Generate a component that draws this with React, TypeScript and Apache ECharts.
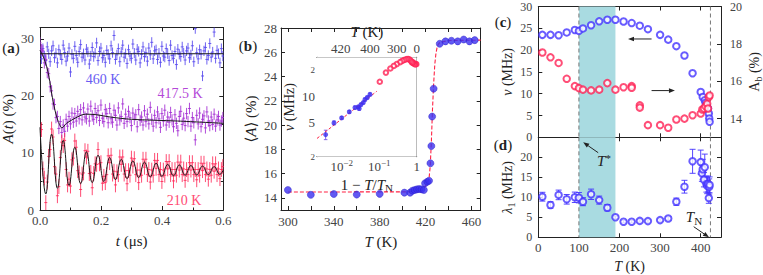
import React, { useEffect, useRef } from "react";
import * as echarts from "echarts";

const FONT = "'Liberation Serif','DejaVu Serif','DejaVu Sans',serif";
const INK = "#222";
const LBL = "#444";

// ---------- panel (a): asymmetry spectra ----------
const binWidth = 0.00475; // us
const a460 = [
  27.8, 26.5, 28.3, 27.0, 26.2, 28.6, 27.4, 26.0, 27.9, 28.8,
  26.7, 27.5, 25.8, 28.1, 27.2, 26.4, 28.9, 27.6, 26.1, 27.0,
  28.4, 24.2, 27.3, 26.6, 28.7, 27.1, 25.9, 27.8, 29.0, 26.8,
  27.4, 26.3, 28.2, 27.7, 25.6, 27.0, 28.5, 26.9, 27.5, 29.3,
  26.2, 27.8, 28.4, 26.7, 27.1, 25.9, 28.0, 27.3, 26.5, 28.8,
  27.6, 30.6, 26.4, 27.2, 28.3, 26.0, 27.7, 28.9, 26.8, 27.4,
  25.7, 28.1, 27.0, 26.6, 29.1, 27.5, 26.3, 28.2, 27.8, 25.8,
  27.3, 28.6, 26.9, 27.6, 26.1, 28.4, 27.2, 29.4, 26.5, 27.9,
  28.1, 26.4, 27.5, 25.9, 28.7, 27.0, 26.8, 28.3, 27.4, 26.2,
  28.9, 27.1, 26.6, 27.8, 25.5, 28.2, 27.3, 26.9, 28.6, 27.5,
  26.3, 27.9, 28.4, 26.7, 27.2, 28.8, 26.0, 31.8, 27.6, 26.5,
  28.1, 27.3, 23.5, 27.9, 28.5, 26.4, 27.1, 29.2, 26.8, 27.7,
  31.2, 26.6, 28.0, 27.4, 25.8, 28.3, 27.0,
];
const a4175 = [
  29.3, 28.1, 27.9, 25.8, 26.4, 24.1, 23.9, 21.6, 20.9, 18.6,
  18.5, 16.2, 16.4, 14.3, 15.5, 13.6, 14.9, 13.8, 15.9, 14.7,
  16.4, 15.1, 17.0, 15.4, 16.9, 15.6, 17.3, 16.0, 17.6, 15.8,
  17.9, 16.3, 16.0, 17.7, 15.6, 18.2, 16.5, 15.9, 17.8, 16.2,
  17.4, 15.7, 18.4, 16.1, 15.5, 17.6, 16.9, 15.3, 17.8, 16.0,
  15.4, 17.5, 16.6, 14.9, 17.9, 15.8, 16.4, 18.6, 15.2, 16.8,
  15.5, 17.3, 16.2, 14.8, 17.0, 15.9, 16.7, 14.6, 17.6, 15.7,
  16.3, 14.9, 17.4, 15.5, 16.8, 15.1, 18.0, 15.9, 14.7, 16.6,
  15.3, 17.2, 16.0, 14.5, 16.9, 15.6, 17.5, 14.9, 16.3, 15.4,
  17.1, 15.8, 14.6, 16.7, 15.2, 13.9, 16.4, 17.3, 15.0, 16.1,
  14.8, 16.9, 15.5, 17.8, 14.7, 16.2, 15.3, 12.3, 16.6, 15.1,
  17.0, 14.6, 15.9, 16.5, 14.4, 17.2, 15.6, 14.8, 16.3, 15.0,
  16.8, 14.7, 15.8, 16.4, 14.9, 15.6, 16.2,
];
const a210 = [
  13.8, 14.1, 7.2, 5.6, 1.3, 4.9, 9.4, 10.6, 14.2, 12.8,
  7.6, 6.3, 2.5, 4.1, 9.2, 11.9, 11.3, 12.2, 7.1, 4.4,
  5.4, 4.2, 8.8, 9.1, 12.1, 11.0, 6.9, 6.5, 3.6, 6.3,
  6.5, 10.4, 9.3, 10.3, 6.4, 6.6, 3.9, 6.4, 8.1, 8.0,
  10.6, 8.1, 8.3, 4.7, 5.9, 4.8, 6.2, 9.5, 8.3, 9.6,
  6.3, 6.8, 4.4, 6.7, 6.2, 9.3, 8.0, 9.3, 6.3, 6.9,
  4.6, 6.9, 6.1, 9.1, 7.7, 9.0, 6.2, 7.0, 4.8, 7.0,
  6.1, 8.9, 7.5, 8.9, 6.2, 7.1, 4.9, 7.0, 6.1, 8.7,
  7.3, 8.7, 6.2, 7.1, 5.0, 7.0, 6.1, 8.5, 7.2, 8.5,
  6.2, 7.1, 5.1, 7.1, 6.1, 8.4, 7.0, 8.4, 6.2, 7.2,
  5.2, 7.1, 6.2, 8.3, 7.0, 8.3, 6.2, 7.1, 5.3, 7.1,
  6.1, 8.2, 6.9, 8.2, 6.2, 7.2, 5.4, 7.1, 6.1, 8.1,
  6.8, 8.1, 6.2, 7.2, 5.5, 7.1, 7.6,
];
const err460 = 0.9;
const err4175 = 1.0;
const err210 = 1.3;
const fit460 = [[0, 27.4], [0.6, 27.4]];
const fit4175 = [
  [0, 28.0], [0.01, 27.0], [0.022, 25.1], [0.03, 23.2], [0.038, 20.5], [0.049, 17.5],
  [0.06, 15.5], [0.072, 14.4], [0.087, 15.2], [0.115, 16.1], [0.148, 16.8], [0.186, 16.7],
  [0.23, 16.3], [0.3, 15.9], [0.45, 15.6], [0.6, 15.2],
];
const fit210 = [
  [0, 14.5], [0.019, 2.8], [0.038, 13.3], [0.057, 3.8], [0.076, 12.2], [0.095, 4.3],
  [0.114, 11.0], [0.133, 4.6], [0.152, 10.2], [0.171, 4.8], [0.19, 9.6], [0.209, 5.0],
  [0.228, 9.2], [0.247, 5.3], [0.266, 8.9], [0.285, 5.5], [0.304, 8.6], [0.323, 5.7],
  [0.342, 8.4], [0.361, 5.8], [0.38, 8.2], [0.399, 5.9], [0.418, 8.0], [0.437, 6.0],
  [0.456, 7.9], [0.475, 6.1], [0.494, 7.8], [0.513, 6.15], [0.532, 7.7], [0.551, 6.2],
  [0.57, 7.6], [0.589, 6.25], [0.6, 7.0],
];

// ---------- panel (b): <A> vs T ----------
const bT = [300, 320, 340, 360, 380, 401.5, 406.5, 408.5, 410.5, 412.5, 414.5, 416.5, 418.5,
  419.5, 421.5, 423, 424.2, 425, 425.7, 427, 432.3, 437.3, 442.5, 448, 453.2, 458.2, 462.8];
const bA = [14.65, 14.25, 14.32, 14.27, 14.33, 14.43, 14.43, 14.59, 14.65, 14.7, 14.73, 14.7, 14.65,
  15.2, 15.33, 15.41, 16.85, 18.27, 20.7, 23.0, 26.7, 26.9, 26.95, 26.9, 27.05, 26.9, 27.0];
const bFitT = [300, 416, 419, 421.5, 423, 424, 425, 426, 427, 428, 429, 430, 431, 432.3, 440, 468];
const bFitA = [14.48, 14.5, 14.85, 15.2, 15.6, 16.6, 18.6, 21.3, 23.4, 25.0, 25.9, 26.4, 26.65, 26.8, 26.97, 27.0];
const TN = 424;
// inset
const insX = [0.00374, 0.00624, 0.01, 0.01596, 0.0226, 0.0277, 0.0294, 0.0327, 0.0377, 0.0418, 0.0482, 0.0569];
const insNu = [3.6, 4.92, 5.62, 6.6, 7.4, 7.53, 7.2, 8.0, 8.45, 9.16, 9.66, 10.5];
const insErr = [0.45, 0.25, 0.2, 0.25, 0.3, 0.3, 0.3, 0.3, 0.3, 0.35, 0.35, 0.4];
const insFitX = [0.0022, 0.086];
const insFitNu = [3.25, 11.4];
const insTopT = [420, 400, 300, 0];

// ---------- panel (c): nu and A_b vs T ----------
const cT = [10, 30, 50, 70, 90, 100, 110, 130, 150, 170, 190, 210, 230, 250, 270, 300, 320, 340, 360, 380,
  400, 405, 410, 412, 414, 418, 420, 421, 422];
const cNu = [23.5, 23.5, 23.4, 24.05, 24.6, 24.4, 24.97, 25.7, 26.6, 26.95, 26.95, 26.55, 26.2, 25.6, 24.8,
  23.5, 22.4, 20.9, 18.75, 14.7, 10.4, 9.25, 8.5, 7.9, 7.36, 6.6, 5.47, 4.33, 3.55];
const abT = [10, 30, 50, 70, 90, 100, 110, 130, 150, 170, 190, 210, 230, 230, 250, 250, 270, 300, 320, 340,
  360, 380, 400, 404, 408, 412, 416, 418, 420, 422];
const abA = [17.54, 17.28, 16.98, 16.13, 15.74, 15.63, 15.55, 15.51, 15.55, 15.9, 15.55, 15.68, 15.74, 15.65,
  14.71, 14.59, 13.65, 13.65, 13.51, 13.95, 14.0, 14.18, 14.27, 14.49, 14.54, 14.66, 14.8, 14.54, 15.15, 15.24];

// ---------- panel (d): lambda_1 vs T ----------
const dT = [10, 30, 50, 70, 90, 100, 110, 130, 150, 170, 190, 210, 230, 250, 270, 300, 320, 340, 360, 380,
  400, 403, 405, 408, 410, 414, 416, 418, 420, 421, 422];
const dLam = [10.15, 8.08, 10.6, 9.5, 10.0, 9.9, 8.9, 10.75, 9.3, 7.4, 5.0, 3.9, 3.9, 4.1, 4.05, 4.3, 4.7,
  8.9, 12.65, 19.0, 18.8, 16.0, 17.0, 14.4, 17.5, 13.3, 12.9, 13.3, 9.8, 12.6, 13.1];
const dErr = [1.1, 0.8, 1.2, 1.2, 1.3, 1.3, 1.0, 1.3, 1.0, 0.8, 0.3, 0.3, 0.3, 0.3, 0.3, 0.3, 0.4, 0.9,
  1.6, 3.0, 3.0, 2.0, 2.5, 1.8, 3.3, 2.0, 2.0, 2.0, 1.3, 2.0, 2.0];
const cdTickLabels = [0, 100, 200, 300, 400];
const tStar = 100;
const bandEnd = 190;

// ---------- colours ----------
const C460 = "#5546ee";
const C4175 = "#a22ad2";
const C210 = "#ff1f50";
const BLUE = "#4433ff";
const RED = "#ff2255";
const BAND = "#a9dbe1";

const L10 = Math.log10;

const richBase = (fs: number) => ({
  i: { fontStyle: "italic", fontFamily: FONT, fontSize: fs, color: INK, lineHeight: 18 },
  r: { fontFamily: FONT, fontSize: fs, color: INK, lineHeight: 18 },
  sub: { fontFamily: FONT, fontSize: fs - 4, color: INK, lineHeight: 10, verticalAlign: "bottom" },
  sup: { fontFamily: FONT, fontSize: fs - 4, color: INK, lineHeight: 10, verticalAlign: "top" },
  b: { fontFamily: FONT, fontSize: fs, color: INK, fontWeight: "bold", lineHeight: 18 },
});

function merge(base: any, o: any) {
  const r: any = { ...base };
  for (const k of Object.keys(o)) {
    if (r[k] && typeof r[k] === "object" && !Array.isArray(r[k]) && o[k] && typeof o[k] === "object" && !Array.isArray(o[k])) {
      r[k] = { ...r[k], ...o[k] };
    } else r[k] = o[k];
  }
  return r;
}

const ax = (o: any) =>
  merge(
    {
      type: "value",
      nameLocation: "middle",
      axisLine: { show: true, onZero: false, lineStyle: { color: INK, width: 1 } },
      axisTick: { show: true, inside: true, length: 4, lineStyle: { color: INK, width: 1 } },
      minorTick: { show: false },
      splitLine: { show: false },
      minorSplitLine: { show: false },
      axisLabel: { show: true, fontFamily: FONT, fontSize: 13, color: LBL, margin: 5 },
      nameTextStyle: { fontFamily: FONT, fontSize: 15, color: INK, lineHeight: 18, rich: richBase(15) },
    },
    o
  );
const mirror = (o: any) => ax({ ...o, axisLabel: { show: false }, name: "" });

const minorA = { show: true, splitNumber: 2, length: 2.5, lineStyle: { color: INK, width: 1 } };

function errRender(color: string, cross: number, cap: number, opacity = 1) {
  return (params: any, api: any) => {
    const x = api.value(0), y = api.value(1), lo = api.value(2), hi = api.value(3);
    const p = api.coord([x, y]);
    const pl = api.coord([x, lo]);
    const ph = api.coord([x, hi]);
    const st = { stroke: color, lineWidth: 1, opacity };
    const ch: any[] = [{ type: "line", shape: { x1: p[0], y1: pl[1], x2: p[0], y2: ph[1] }, style: st }];
    if (cross) ch.push({ type: "line", shape: { x1: p[0] - cross, y1: p[1], x2: p[0] + cross, y2: p[1] }, style: st });
    if (cap) {
      ch.push({ type: "line", shape: { x1: p[0] - cap, y1: pl[1], x2: p[0] + cap, y2: pl[1] }, style: st });
      ch.push({ type: "line", shape: { x1: p[0] - cap, y1: ph[1], x2: p[0] + cap, y2: ph[1] }, style: st });
    }
    return { type: "group", children: ch };
  };
}

function bandRender(params: any, api: any) {
  const cs = params.coordSys;
  const x1 = api.coord([api.value(0), api.value(1)])[0];
  const x2 = api.coord([api.value(2), api.value(1)])[0];
  return { type: "rect", shape: { x: x1, y: cs.y, width: x2 - x1, height: cs.height }, style: { fill: BAND } };
}

function vlineRender(params: any, api: any) {
  const cs = params.coordSys;
  const x = api.coord([api.value(0), api.value(1)])[0];
  return {
    type: "line",
    shape: { x1: x, y1: cs.y, x2: x, y2: cs.y + cs.height },
    style: { stroke: "#777", lineWidth: 1, lineDash: [4, 3] },
  };
}

function arrowRender(params: any, api: any) {
  const p1 = api.coord([api.value(0), api.value(1)]);
  const p2 = api.coord([api.value(2), api.value(3)]);
  const ang = Math.atan2(p2[1] - p1[1], p2[0] - p1[0]);
  const L = 6, W = 2.3;
  const bx = p2[0] - L * Math.cos(ang), by = p2[1] - L * Math.sin(ang);
  const nx = -Math.sin(ang) * W, ny = Math.cos(ang) * W;
  return {
    type: "group",
    children: [
      { type: "line", shape: { x1: p1[0], y1: p1[1], x2: bx, y2: by }, style: { stroke: INK, lineWidth: 1 } },
      { type: "polygon", shape: { points: [[p2[0], p2[1]], [bx + nx, by + ny], [bx - nx, by - ny]] }, style: { fill: INK } },
    ],
  };
}

function buildOption() {
  const tk = (k: number) => +(k * binWidth).toFixed(5);
  const ad = (arr: number[], e: number) => arr.map((v, k) => [tk(k), v, v - e, v + e]);

  const insLogX0 = L10(0.0022);
  const insY0 = L10(2);
  const insY1 = 1.45;
  const minorInsX: number[] = [];
  [0.001, 0.01, 0.1].forEach((d) => {
    for (let m = 2; m <= 9; m++) {
      const v = L10(m * d);
      if (v > insLogX0 && v < 0) minorInsX.push(v);
    }
  });
  const insTopPos = insTopT.map((T) => L10(1 - T / TN));

  const xAxis = [
    // 0 (a) bottom
    ax({ gridIndex: 0, min: 0, max: 0.6, interval: 0.2, minorTick: minorA,
      axisLabel: { formatter: (v: number) => v.toFixed(1), margin: 4 },
      name: "{i|t}{r| (μs)}", nameGap: 19 }),
    // 1 (a) top
    mirror({ gridIndex: 0, position: "top", min: 0, max: 0.6, interval: 0.2, minorTick: minorA }),
    // 2 (b) bottom
    ax({ gridIndex: 1, min: 294, max: 468,
      axisTick: { customValues: [300, 320, 340, 360, 380, 400, 420, 440, 460] },
      axisLabel: { customValues: [300, 340, 380, 420, 460], margin: 5 },
      name: "{i|T}{r| (K)}", nameGap: 19 }),
    // 3 (b) top
    mirror({ gridIndex: 1, position: "top", min: 294, max: 468,
      axisTick: { customValues: [300, 320, 340, 360, 380, 400, 420, 440, 460] } }),
    // 4 inset bottom
    ax({ gridIndex: 2, min: insLogX0, max: 0,
      axisTick: { customValues: [-2, -1, 0], length: 3.5 },
      axisLabel: { customValues: [-2, -1, 0], margin: 2,
        formatter: (v: number) => { const n = Math.round(v); return n === 0 ? "1" : "10{sup|−" + (-n) + "}"; },
        rich: { sup: { fontFamily: FONT, fontSize: 9, color: LBL, verticalAlign: "top", lineHeight: 9 } },
        lineHeight: 16 },
      name: "{r|1 − }{i|T}{r|/}{i|T}{sub|N}", nameGap: 12 }),
    // 5 inset bottom minor ticks
    mirror({ gridIndex: 2, min: insLogX0, max: 0, axisLine: { show: false },
      axisTick: { customValues: minorInsX, length: 2 } }),
    // 6 inset top (T)
    ax({ gridIndex: 2, position: "top", min: insLogX0, max: 0,
      axisTick: { customValues: insTopPos, length: 3.5 },
      axisLabel: { customValues: insTopPos, margin: 2,
        formatter: (v: number) => String(Math.round(TN * (1 - Math.pow(10, v)))) },
      name: "{i|T}{r| (K)}", nameGap: 11 }),
    // 7 (c) bottom
    mirror({ gridIndex: 3, min: 0, max: 450, axisTick: { customValues: cdTickLabels } }),
    // 8 (c) top
    mirror({ gridIndex: 3, position: "top", min: 0, max: 450, axisTick: { customValues: cdTickLabels } }),
    // 9 (d) bottom
    ax({ gridIndex: 4, min: 0, max: 450,
      axisTick: { customValues: cdTickLabels },
      axisLabel: { customValues: cdTickLabels, margin: 4 },
      name: "{i|T}{r| (K)}", nameGap: 20, nameTextStyle: { fontSize: 14, rich: richBase(14) } }),
    // 10 (d) top
    mirror({ gridIndex: 4, position: "top", min: 0, max: 450, axisTick: { customValues: cdTickLabels } }),
  ];

  const insYTicks = [2, 3, 4, 5, 6, 7, 8, 9, 10, 20].map((v) => L10(v));
  const yAxis = [
    // 0 (a) left
    ax({ gridIndex: 0, min: 0, max: 32, interval: 10, minorTick: minorA, axisLabel: { margin: 6 },
      name: "{i|A}{r|(}{i|t}{r|) (%)}", nameGap: 22, nameRotate: 90 }),
    // 1 (a) right
    mirror({ gridIndex: 0, position: "right", min: 0, max: 32, interval: 10, minorTick: minorA }),
    // 2 (b) left
    ax({ gridIndex: 1, min: 13, max: 28,
      axisTick: { customValues: [14, 16, 18, 20, 22, 24, 26, 28] },
      axisLabel: { customValues: [14, 16, 18, 20, 22, 24, 26, 28], margin: 4 },
      name: "{r|⟨}{i|A}{r|⟩ (%)}", nameGap: 20, nameRotate: 90 }),
    // 3 (b) right
    mirror({ gridIndex: 1, position: "right", min: 13, max: 28,
      axisTick: { customValues: [14, 16, 18, 20, 22, 24, 26, 28] } }),
    // 4 inset left
    ax({ gridIndex: 2, min: insY0, max: insY1,
      axisTick: { customValues: insYTicks, length: 3 },
      axisLabel: { customValues: [L10(2), L10(5), 1, L10(20)], margin: 2,
        formatter: (v: number) => { const n = Math.round(Math.pow(10, v)); return n === 2 || n === 20 ? "{s|2}" : String(n); },
        rich: { s: { fontFamily: FONT, fontSize: 9, color: LBL } } },
      name: "{i|ν}{r| (MHz)}", nameGap: 11, nameRotate: 90,
      nameTextStyle: { fontSize: 14, rich: richBase(14) } }),
    // 5 inset right
    mirror({ gridIndex: 2, position: "right", min: insY0, max: insY1, axisTick: { customValues: insYTicks, length: 3 } }),
    // 6 (c) left
    ax({ gridIndex: 3, min: 0, max: 30, interval: 5, axisLabel: { margin: 6, fontSize: 12 },
      name: "{i|ν}{r| (MHz)}", nameGap: 21, nameRotate: 90,
      nameTextStyle: { fontSize: 14, rich: richBase(14) } }),
    // 7 (c) right
    ax({ gridIndex: 3, position: "right", min: 13, max: 20,
      axisTick: { customValues: [14, 16, 18, 20] },
      axisLabel: { customValues: [14, 16, 18, 20], margin: 9, fontSize: 12 },
      name: "{r|A}{sub|b}{r| (%)}", nameGap: 15, nameRotate: 90,
      nameTextStyle: { fontSize: 14, rich: richBase(14) } }),
    // 8 (d) left
    ax({ gridIndex: 4, min: 0, max: 25, interval: 5,
      axisLabel: { margin: 6, fontSize: 12, formatter: (v: number) => (v >= 25 ? "" : String(v)) },
      name: "{i|λ}{sub|1}{r| (MHz)}", nameGap: 21, nameRotate: 90,
      nameTextStyle: { fontSize: 14, rich: richBase(14) } }),
    // 9 (d) right
    mirror({ gridIndex: 4, position: "right", min: 0, max: 25, interval: 5 }),
  ];

  const grid = [
    { left: 40, top: 27.5, width: 183.3, height: 182.5 },
    { left: 281, top: 28, width: 199.7, height: 182 },
    { left: 317, top: 57.3, width: 99.7, height: 99.4, show: true, backgroundColor: "#fff", borderWidth: 0, z: 5 },
    { left: 538.3, top: 6.5, width: 182.7, height: 130.8 },
    { left: 538.3, top: 137.3, width: 182.7, height: 100 },
  ].map((g) => ({ ...g, containLabel: false, outerBoundsMode: "none" }));

  const series: any[] = [
    // ---- (a)
    { type: "custom", xAxisIndex: 0, yAxisIndex: 0, clip: true, silent: true, z: 2,
      renderItem: errRender(C460, 1.5, 0, 0.85), data: ad(a460, err460) },
    { type: "custom", xAxisIndex: 0, yAxisIndex: 0, clip: true, silent: true, z: 2,
      renderItem: errRender(C4175, 1.5, 0, 0.85), data: ad(a4175, err4175) },
    { type: "custom", xAxisIndex: 0, yAxisIndex: 0, clip: true, silent: true, z: 2,
      renderItem: errRender(C210, 1.5, 0, 0.8), data: ad(a210, err210) },
    { type: "line", xAxisIndex: 0, yAxisIndex: 0, showSymbol: false, z: 3, silent: true,
      lineStyle: { color: "#1a1a1a", width: 1 }, data: fit460 },
    { type: "line", xAxisIndex: 0, yAxisIndex: 0, showSymbol: false, z: 3, silent: true, smooth: 0.3,
      lineStyle: { color: "#1a1a1a", width: 1 }, data: fit4175 },
    { type: "line", xAxisIndex: 0, yAxisIndex: 0, showSymbol: false, z: 3, silent: true, smooth: 0.45,
      lineStyle: { color: "#1a1a1a", width: 1 }, data: fit210 },
    // ---- (b)
    { type: "line", xAxisIndex: 2, yAxisIndex: 2, showSymbol: false, z: 2, silent: true,
      lineStyle: { color: "#ff2244", width: 1.1, type: [4, 2] }, data: bFitT.map((t, i) => [t, bFitA[i]]) },
    { type: "scatter", xAxisIndex: 2, yAxisIndex: 2, symbol: "circle", symbolSize: 7, z: 3, silent: true,
      itemStyle: { color: "#3b2ff0", borderColor: "#2a20c8", borderWidth: 0.6 }, data: bT.map((t, i) => [t, bA[i]]) },
    // ---- inset
    { type: "line", xAxisIndex: 4, yAxisIndex: 4, showSymbol: false, z: 6, silent: true,
      lineStyle: { color: "#ff2244", width: 1, type: [3, 2] }, data: insFitX.map((x, i) => [L10(x), L10(insFitNu[i])]) },
    { type: "custom", xAxisIndex: 4, yAxisIndex: 4, silent: true, z: 6,
      renderItem: errRender("#7a55e8", 0, 1.8, 0.9),
      data: insX.map((x, i) => [L10(x), L10(insNu[i]), L10(insNu[i] - insErr[i]), L10(insNu[i] + insErr[i])]) },
    { type: "scatter", xAxisIndex: 4, yAxisIndex: 4, symbol: "circle", symbolSize: 5, z: 7, silent: true,
      itemStyle: { color: "#3b2ff0" }, data: insX.map((x, i) => [L10(x), L10(insNu[i])]) },
    { type: "scatter", xAxisIndex: 4, yAxisIndex: 4, symbol: "emptyCircle", symbolSize: 4.5, z: 7, silent: true,
      itemStyle: { color: RED, borderColor: RED, borderWidth: 1 },
      data: cT.map((T, i) => [T, cNu[i]]).filter((p) => p[0] <= 380).map((p) => [L10(1 - p[0] / TN), L10(p[1])]) },
    // ---- (c)
    { type: "custom", xAxisIndex: 7, yAxisIndex: 6, silent: true, z: 1, renderItem: bandRender, data: [[tStar, 0, bandEnd]] },
    { type: "custom", xAxisIndex: 7, yAxisIndex: 6, silent: true, z: 2, renderItem: vlineRender, data: [[tStar, 0], [TN, 0]] },
    { type: "scatter", xAxisIndex: 7, yAxisIndex: 6, symbol: "emptyCircle", symbolSize: 6.5, z: 4, silent: true,
      itemStyle: { color: BLUE, borderColor: BLUE, borderWidth: 1.1 }, data: cT.map((T, i) => [T, cNu[i]]) },
    { type: "scatter", xAxisIndex: 7, yAxisIndex: 7, symbol: "emptyCircle", symbolSize: 6.5, z: 4, silent: true,
      itemStyle: { color: RED, borderColor: RED, borderWidth: 1.1 }, data: abT.map((T, i) => [T, abA[i]]) },
    { type: "custom", xAxisIndex: 7, yAxisIndex: 6, silent: true, z: 3, renderItem: arrowRender, data: [[279, 22.55, 221, 22.55]] },
    { type: "custom", xAxisIndex: 7, yAxisIndex: 7, silent: true, z: 3, renderItem: arrowRender, data: [[279, 15.5, 336.5, 15.5]] },
    // ---- (d)
    { type: "custom", xAxisIndex: 9, yAxisIndex: 8, silent: true, z: 1, renderItem: bandRender, data: [[tStar, 0, bandEnd]] },
    { type: "custom", xAxisIndex: 9, yAxisIndex: 8, silent: true, z: 2, renderItem: vlineRender, data: [[tStar, 0], [TN, 0]] },
    { type: "custom", xAxisIndex: 9, yAxisIndex: 8, silent: true, z: 3, renderItem: errRender(BLUE, 0, 3, 0.9),
      data: dT.map((T, i) => [T, dLam[i], dLam[i] - dErr[i], dLam[i] + dErr[i]]) },
    { type: "scatter", xAxisIndex: 9, yAxisIndex: 8, symbol: "emptyCircle", symbolSize: 6.5, z: 4, silent: true,
      itemStyle: { color: BLUE, borderColor: BLUE, borderWidth: 1.1 }, data: dT.map((T, i) => [T, dLam[i]]) },
    { type: "custom", xAxisIndex: 9, yAxisIndex: 8, silent: true, z: 3, renderItem: arrowRender, data: [[147.5, 21.15, 110.6, 23.75]] },
    { type: "custom", xAxisIndex: 9, yAxisIndex: 8, silent: true, z: 3, renderItem: arrowRender, data: [[382.8, 2.65, 420.4, 0]] },
  ];

  const txt = (text: string, x: number, y: number, fs: number, color = INK, rich?: any) => ({
    type: "text", x, y, z: 10, silent: true,
    style: { text, x: 0, y: 0, fill: color, fontFamily: FONT, fontSize: fs, align: "center", verticalAlign: "middle", rich },
  });

  const graphic = [
    txt("{r|(}{b|a}{r|)}", 11, 48, 15, INK, richBase(15)),
    txt("{r|(}{b|b}{r|)}", 248, 46, 15, INK, richBase(15)),
    txt("{r|(}{b|c}{r|)}", 503, 22, 15, INK, richBase(15)),
    txt("{r|(}{b|d}{r|)}", 503, 145, 15, INK, richBase(15)),
    txt("460 K", 103, 79, 14, "#6a5cf2"),
    txt("417.5 K", 180, 93, 14, "#b448d8"),
    txt("210 K", 184, 200, 14, "#ff4a74"),
    txt("{i|T}{sup|*}", 604, 161, 15, INK, richBase(15)),
    txt("{i|T}{sub|N}", 694, 217, 15, INK, richBase(15)),
  ];

  return {
    animation: false,
    backgroundColor: "#fff",
    textStyle: { fontFamily: FONT },
    grid,
    xAxis,
    yAxis,
    series,
    graphic,
  };
}

export default function App() {
  const ref = useRef<HTMLDivElement>(null);
  useEffect(() => {
    const chart = echarts.init(ref.current!, undefined, { renderer: "svg" });
    chart.setOption(buildOption() as any);
    return () => chart.dispose();
  }, []);
  return (
    <div
      ref={ref}
      style={{ position: "fixed", left: 0, top: 0, width: 763, height: 275, background: "#fff" }}
    />
  );
}
